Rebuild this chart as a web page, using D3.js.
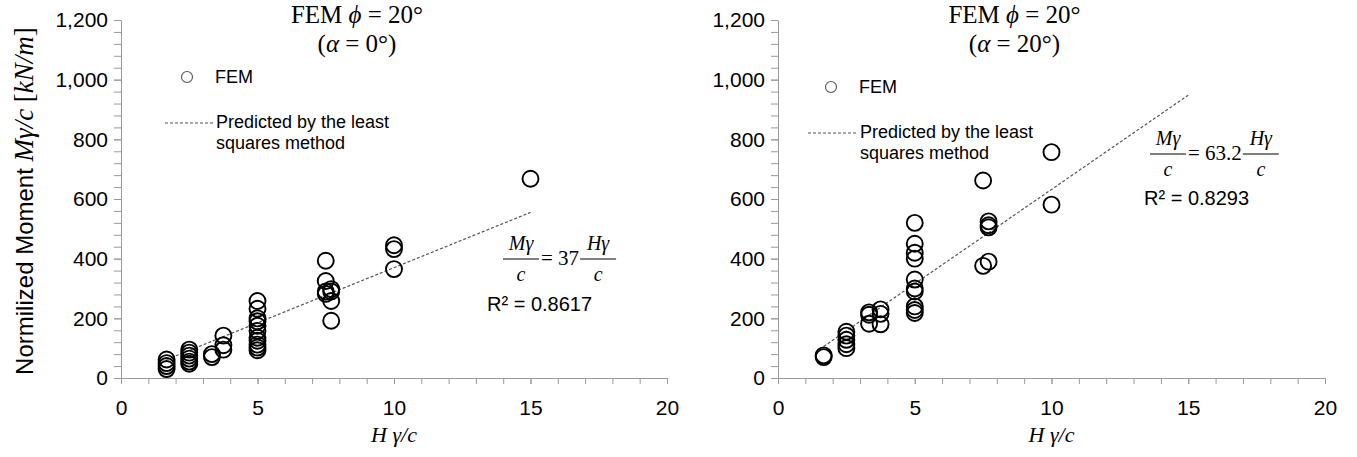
<!DOCTYPE html>
<html>
<head>
<meta charset="utf-8">
<script src="https://cdn.jsdelivr.net/npm/d3@7"></script>
<style>
  body { margin: 0; background: #fff; }
  svg text { fill: #000; }
</style>
</head>
<body>
<svg id="chart" width="1357" height="457"></svg>
<script>
// Axis ticks
const xTicks = [0, 5, 10, 15, 20];
const yTicks = [0, 200, 400, 600, 800, 1000, 1200];
const xMinorStep = 1;
const yMinorStep = 40;

// FEM results, alpha = 0 deg  (H*gamma/c , M*gamma/c)
const hAlpha0 = [1.67, 1.67, 1.67, 1.67,
  2.5, 2.5, 2.5, 2.5, 2.5, 2.5,
  3.33, 3.33,
  3.75, 3.75, 3.75,
  5, 5, 5, 5, 5, 5, 5, 5, 5, 5, 5,
  7.5, 7.5, 7.5, 7.5,
  7.7, 7.7, 7.7, 7.7,
  10, 10, 10,
  15];
const mAlpha0 = [62, 50, 40, 30,
  95, 85, 75, 65, 55, 48,
  80, 70,
  142, 110, 95,
  258, 232, 200, 190, 175, 158, 135, 125, 112, 102, 93,
  393, 325, 290, 282,
  298, 290, 258, 192,
  445, 432, 365,
  668];

// FEM results, alpha = 20 deg
const hAlpha20 = [1.67, 1.67,
  2.5, 2.5, 2.5, 2.5, 2.5,
  3.33, 3.33, 3.33,
  3.75, 3.75, 3.75,
  5, 5, 5, 5, 5, 5, 5, 5, 5, 5,
  7.5, 7.5,
  7.7, 7.7, 7.7, 7.7,
  10, 10];
const mAlpha20 = [76, 70,
  155, 142, 128, 113, 100,
  220, 212, 182,
  230, 215, 180,
  520, 450, 420, 400, 330, 300, 290, 240, 228, 218,
  662, 376,
  525, 512, 505, 390,
  757, 581];

// Least-squares fits through the origin
const slopeAlpha0 = 37;
const slopeAlpha20 = 63.2;
const r2Alpha0 = "R\u00B2 = 0.8617";
const r2Alpha20 = "R\u00B2 = 0.8293";
const fitRange = [1.67, 15];

const svg = d3.select("#chart");
const sans = "'Liberation Sans', Arial, sans-serif";
const serif = "'Liberation Serif', 'Times New Roman', serif";

const panels = [
  {
    left: 121, right: 667,
    h: hAlpha0, m: mAlpha0, slope: slopeAlpha0, r2: r2Alpha0,
    alpha: "0°", coef: "37",
    legend: { cx: 187, cy: 77, lx0: 165, lx1: 213, ly: 123, tx: 215 },
    eq: { x: 503, bar: 259, r2x: 487, r2y: 311 },
    yLabel: true
  },
  {
    left: 778, right: 1325,
    h: hAlpha20, m: mAlpha20, slope: slopeAlpha20, r2: r2Alpha20,
    alpha: "20°", coef: "63.2",
    legend: { cx: 831, cy: 87, lx0: 808, lx1: 857, ly: 133, tx: 859 },
    eq: { x: 1150, bar: 154, r2x: 1144, r2y: 205 },
    yLabel: false
  }
];

const plotTop = 20, plotBottom = 378;

panels.forEach(p => {
  const x = d3.scaleLinear().domain([0, 20]).range([p.left, p.right]);
  const y = d3.scaleLinear().domain([0, 1200]).range([plotBottom, plotTop]);
  const g = svg.append("g");

  // minor ticks
  g.append("g").attr("transform", `translate(0,${plotBottom})`)
    .call(d3.axisBottom(x).tickValues(d3.range(0, 20.001, xMinorStep)).tickSize(6).tickFormat(""))
    .call(a => a.select(".domain").remove())
    .call(a => a.selectAll("line").attr("stroke", "#9a9a9a"));
  g.append("g").attr("transform", `translate(${p.left},0)`)
    .call(d3.axisLeft(y).tickValues(d3.range(0, 1200.001, yMinorStep)).tickSize(7).tickFormat(""))
    .call(a => a.select(".domain").remove())
    .call(a => a.selectAll("line").attr("stroke", "#9a9a9a"));

  // major axes with labels
  const xa = g.append("g").attr("transform", `translate(0,${plotBottom})`)
    .call(d3.axisBottom(x).tickValues(xTicks).tickSize(6).tickPadding(16).tickSizeOuter(0));
  const ya = g.append("g").attr("transform", `translate(${p.left},0)`)
    .call(d3.axisLeft(y).tickValues(yTicks).tickSize(7).tickPadding(6).tickSizeOuter(0).tickFormat(d3.format(",")));
  [xa, ya].forEach(a => {
    a.select(".domain").attr("stroke", "#9a9a9a");
    a.selectAll("line").attr("stroke", "#9a9a9a");
    a.selectAll("text").attr("font-family", sans).attr("font-size", 21).attr("fill", "#000");
  });

  // fitted line
  const fit = d3.line().x(d => x(d)).y(d => y(p.slope * d));
  g.append("path").datum(fitRange).attr("d", fit)
    .attr("fill", "none").attr("stroke", "#555").attr("stroke-width", 1.2)
    .attr("stroke-dasharray", "3,2");

  // FEM points
  g.append("g").selectAll("circle").data(p.h.map((h, i) => [h, p.m[i]])).join("circle")
    .attr("cx", d => x(d[0])).attr("cy", d => y(d[1])).attr("r", 8)
    .attr("fill", "none").attr("stroke", "#000").attr("stroke-width", 1.9);

  // title
  const cx = (p.left + p.right) / 2;
  const tx = cx - 37;
  const t1 = g.append("text").attr("x", tx).attr("y", 23).attr("text-anchor", "middle")
    .attr("font-family", serif).attr("font-size", 25);
  t1.append("tspan").text("FEM ");
  t1.append("tspan").attr("font-style", "italic").text("\u03D5");
  t1.append("tspan").text(" = 20°");
  const t2 = g.append("text").attr("x", tx).attr("y", 52).attr("text-anchor", "middle")
    .attr("font-family", serif).attr("font-size", 25);
  t2.append("tspan").text("(");
  t2.append("tspan").attr("font-style", "italic").text("\u03B1");
  t2.append("tspan").text(" = " + p.alpha + ")");

  // x axis title
  const xt = g.append("text").attr("x", cx).attr("y", 442).attr("text-anchor", "middle")
    .attr("font-family", serif).attr("font-style", "italic").attr("font-size", 22);
  xt.text("H \u03B3/c");

  // legend
  const L = p.legend;
  g.append("circle").attr("cx", L.cx).attr("cy", L.cy).attr("r", 5.5)
    .attr("fill", "none").attr("stroke", "#555").attr("stroke-width", 1.1);
  g.append("text").attr("x", L.tx).attr("y", L.cy + 6).attr("font-family", sans).attr("font-size", 18).text("FEM");
  g.append("line").attr("x1", L.lx0).attr("x2", L.lx1).attr("y1", L.ly).attr("y2", L.ly)
    .attr("stroke", "#555").attr("stroke-width", 1.1).attr("stroke-dasharray", "3,2");
  g.append("text").attr("x", L.tx + 1).attr("y", L.ly + 5).attr("font-family", sans).attr("font-size", 18)
    .text("Predicted by the least");
  g.append("text").attr("x", L.tx + 1).attr("y", L.ly + 26).attr("font-family", sans).attr("font-size", 18)
    .text("squares method");

  // regression equation  M gamma / c = k H gamma / c
  const E = p.eq;
  const fracW = 36;
  const frac = (x0, num) => {
    g.append("text").attr("x", x0 + fracW / 2).attr("y", E.bar - 9).attr("text-anchor", "middle")
      .attr("font-family", serif).attr("font-style", "italic").attr("font-size", 20).text(num);
    g.append("line").attr("x1", x0).attr("x2", x0 + fracW).attr("y1", E.bar).attr("y2", E.bar)
      .attr("stroke", "#000").attr("stroke-width", 1);
    g.append("text").attr("x", x0 + fracW / 2).attr("y", E.bar + 22).attr("text-anchor", "middle")
      .attr("font-family", serif).attr("font-style", "italic").attr("font-size", 20).text("c");
  };
  frac(E.x, "M\u03B3");
  const mid = g.append("text").attr("x", E.x + fracW + 2).attr("y", E.bar + 6)
    .attr("font-family", serif).attr("font-size", 21).text("= " + p.coef);
  const midW = mid.node().getComputedTextLength();
  frac(E.x + fracW + 3 + midW, "H\u03B3");
  g.append("text").attr("x", E.r2x).attr("y", E.r2y).attr("font-family", sans).attr("font-size", 20).text(p.r2);

  // y axis title (left panel only)
  if (p.yLabel) {
    const yt = svg.append("text").attr("transform", "translate(33,201) rotate(-90)")
      .attr("text-anchor", "middle").attr("font-family", sans).attr("font-size", 24);
    yt.append("tspan").text("Normilized Moment ");
    yt.append("tspan").attr("font-family", serif).attr("font-style", "italic").attr("font-size", 27).text("M\u03B3/c");
    yt.append("tspan").attr("font-family", serif).attr("font-size", 27).text(" [");
    yt.append("tspan").attr("font-family", serif).attr("font-style", "italic").attr("font-size", 27).text("kN/m");
    yt.append("tspan").attr("font-family", serif).attr("font-size", 27).text("]");
  }
});
</script>
</body>
</html>
